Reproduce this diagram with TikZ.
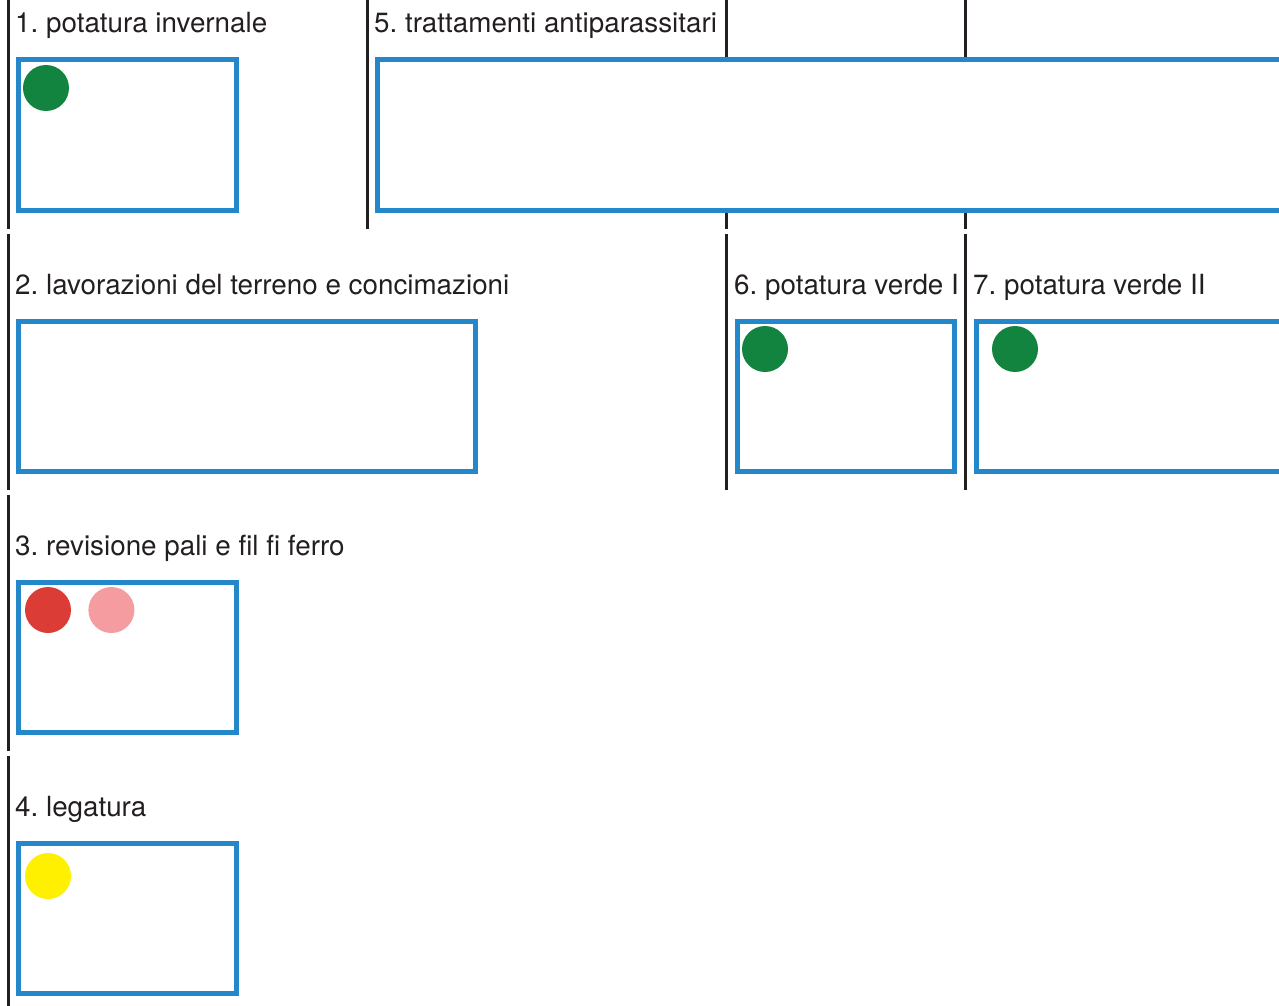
\documentclass[tikz,border=0pt]{standalone}
\usepackage{fontspec}
\setmainfont{TeX Gyre Heros}
\usetikzlibrary{positioning}
\definecolor{boxblue}{HTML}{2387CA}
\definecolor{inkgray}{HTML}{231F20}
\definecolor{dotgreen}{HTML}{12843F}
\definecolor{dotred}{HTML}{DC3C36}
\definecolor{dotpink}{HTML}{F59CA1}
\definecolor{dotyellow}{HTML}{FFF000}
\frenchspacing
\begin{document}
\begin{tikzpicture}[x=1pt, y=-1pt, font=\fontsize{27.8}{30}\selectfont,
  sep line/.style={draw=inkgray, line width=3pt},
  task box/.style={draw=boxblue, line width=5pt, fill=white, inner sep=0pt, anchor=north west, minimum height=150pt},
  label node/.style={anchor=base west, inner sep=0pt, text=inkgray},
  dot/.style={circle, inner sep=0pt, minimum size=46pt}]
  \useasboundingbox (0,0) rectangle (1279,1006);
  \clip (0,0) rectangle (1279,1006);
  % column rules
  \draw[sep line] (8,0) -- (8,229) (367,0) -- (367,229) (726,0) -- (726,229) (965,0) -- (965,229);
  \draw[sep line] (8,234) -- (8,490) (726,234) -- (726,490) (965,234) -- (965,490);
  \draw[sep line] (8,495) -- (8,751);
  \draw[sep line] (8,756) -- (8,1006);
  % labels
  \node[label node] (t1) at (15,33) {1. potatura invernale};
  \node[label node] (t5) at (374,33) {5. trattamenti antiparassitari};
  \node[label node] (t2) at (15,294) {2. lavorazioni del terreno e concimazioni};
  \node[label node] (t6) at (734,294) {6. potatura verde I};
  \node[label node] (t7) at (973,294) {7. potatura verde II};
  \node[label node] (t3) at (15,555) {3. revisione pali e fil fi ferro};
  \node[label node] (t4) at (15,816) {4. legatura};
  % boxes
  \node[task box, minimum width=218pt] (b1) at (15.5,57.5) {};
  \node[task box, minimum width=1000pt] (b5) at (374.5,57.5) {};
  \node[task box, minimum width=457pt] (b2) at (15.5,318.5) {};
  \node[task box, minimum width=217pt] (b6) at (734.5,318.5) {};
  \node[task box, minimum width=400pt] (b7) at (973.5,318.5) {};
  \node[task box, minimum width=218pt] (b3) at (15.5,579.5) {};
  \node[task box, minimum width=218pt] (b4) at (15.5,840.5) {};
  % dots
  \node[dot, fill=dotgreen] (d1) at (46,88) {};
  \node[dot, fill=dotgreen] (d6) at (765,349) {};
  \node[dot, fill=dotgreen] (d7) at (1015,349) {};
  \node[dot, fill=dotred] (d3) at (48,610) {};
  \node[dot, fill=dotpink, right=17pt of d3] (d3b) {};
  \node[dot, fill=dotyellow] (d4) at (48,876) {};
\end{tikzpicture}
\end{document}
